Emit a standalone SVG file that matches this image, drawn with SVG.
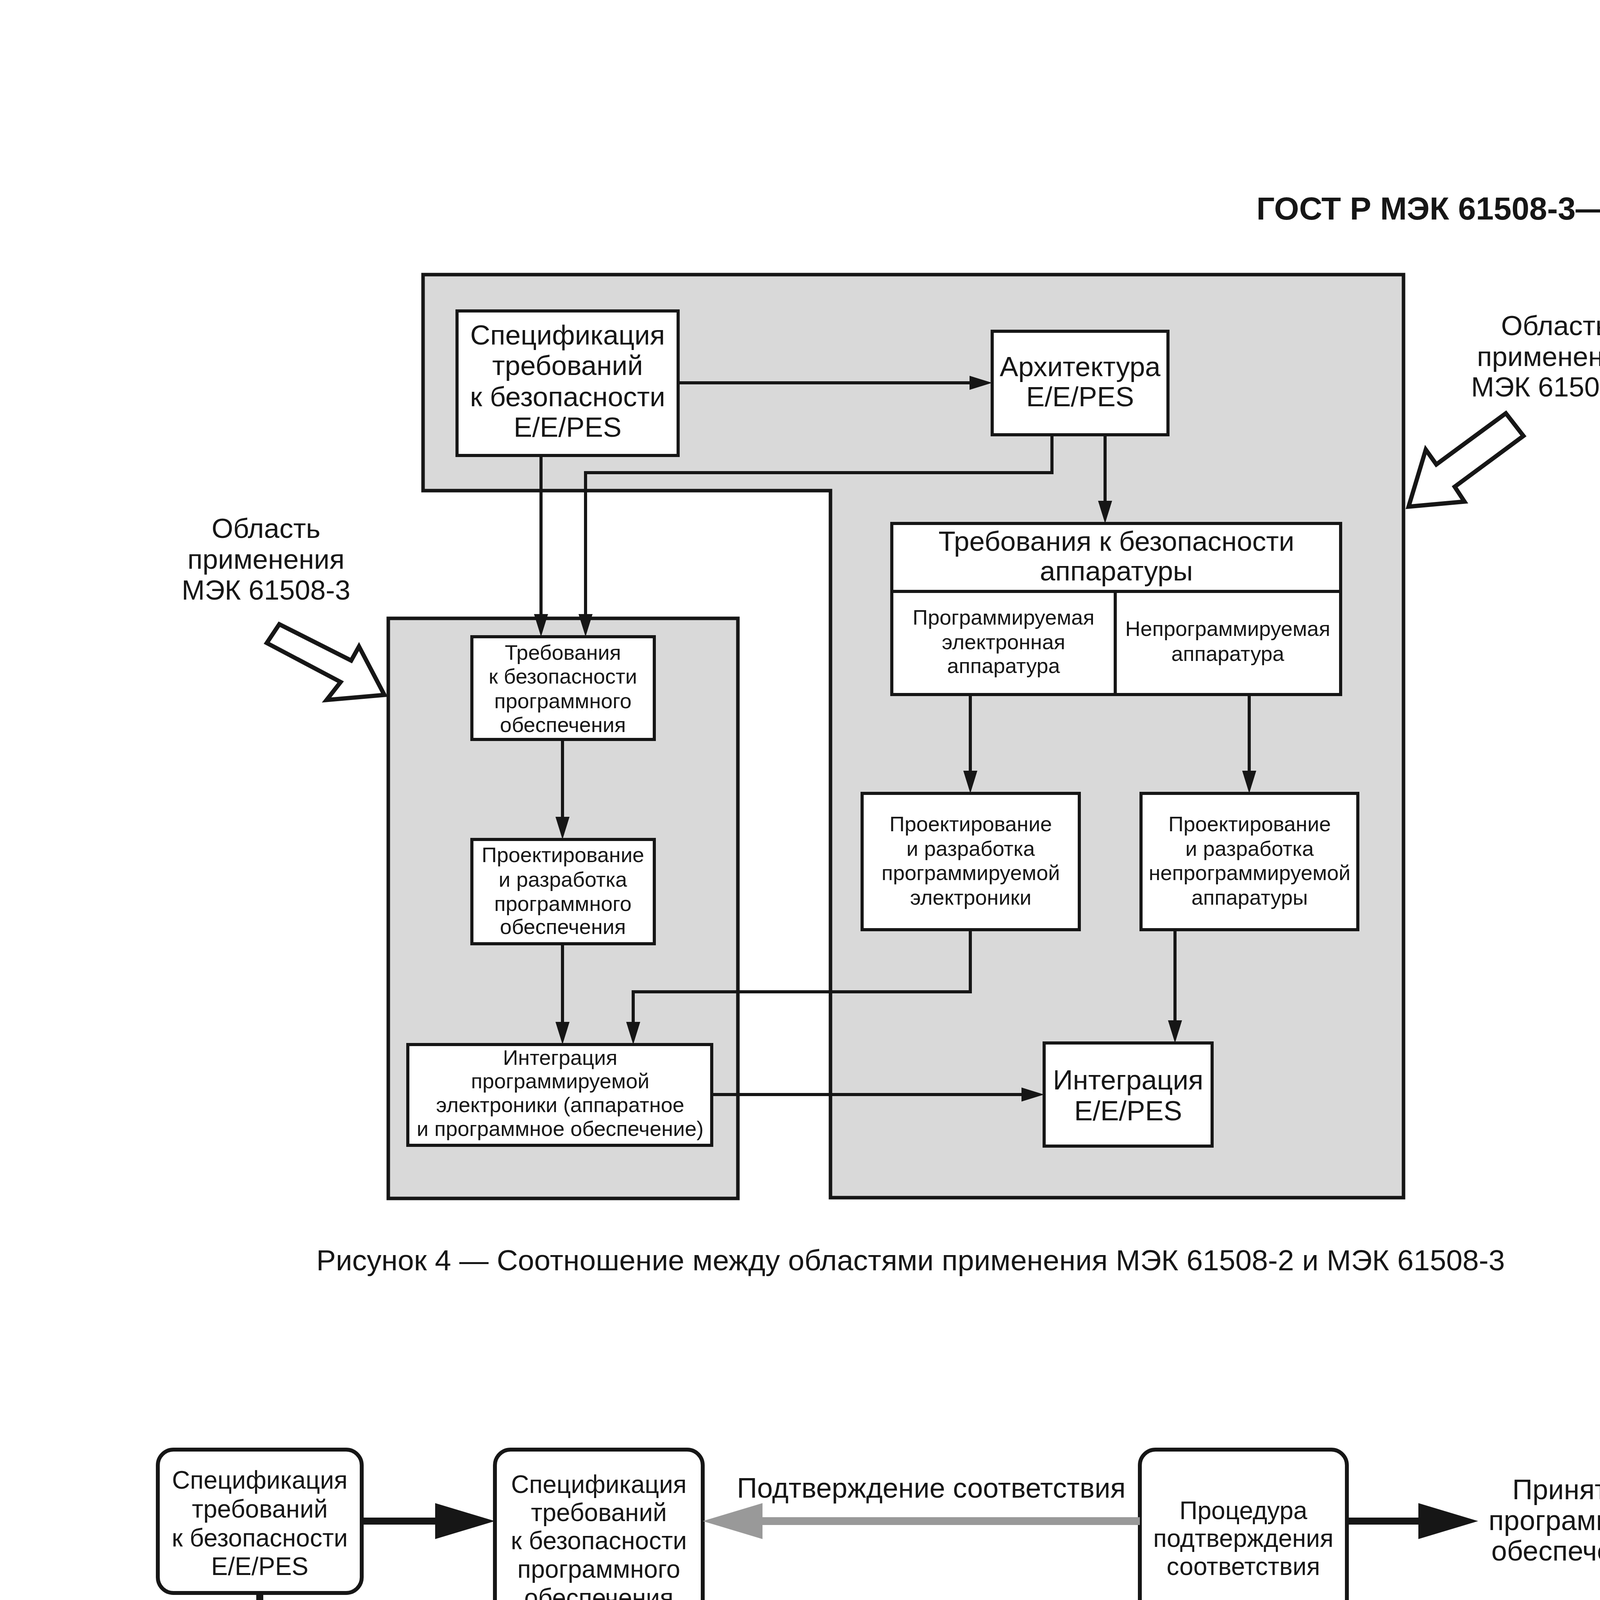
<svg xmlns="http://www.w3.org/2000/svg" width="4886" height="6911" viewBox="0 0 4886 6911">
<style>
text{font-family:"Liberation Sans",Arial,sans-serif;fill:#161616;text-anchor:middle}
.hdr{font-weight:bold;font-size:82px;text-anchor:end}
.cap{font-size:75px}
.L{font-size:71px}
.S{font-size:54px}
.M{font-size:64px}
.B{font-size:72px}
.lg{text-anchor:start;font-size:63px}
.grey{fill:#d9d9d9;stroke:#161616;stroke-width:9}
.b4{fill:#fff;stroke:#161616;stroke-width:8}
.b5{fill:#fff;stroke:#161616;stroke-width:10}
.hol{fill:#fff;stroke:#161616;stroke-width:11;stroke-linejoin:miter}
.c4{fill:none;stroke:#161616;stroke-width:8}
.c5{fill:none;stroke:#161616;stroke-width:9}
.dot{stroke-dasharray:14 8}
.thk{fill:none;stroke:#161616;stroke-width:18}
.gry{fill:none;stroke:#999;stroke-width:20}
</style>
<defs>
<marker id="a" markerUnits="userSpaceOnUse" orient="auto" refX="0" refY="0" markerWidth="1" markerHeight="1" overflow="visible"><path d="M-4,-18 L54,0 L-4,18 z" fill="#161616"/></marker>
<marker id="t" markerUnits="userSpaceOnUse" orient="auto-start-reverse" refX="0" refY="0" markerWidth="1" markerHeight="1" overflow="visible"><path d="M-6,-46 L147,0 L-6,46 z" fill="#161616"/></marker>
<marker id="g" markerUnits="userSpaceOnUse" orient="auto" refX="0" refY="0" markerWidth="1" markerHeight="1" overflow="visible"><path d="M-6,-46 L147,0 L-6,46 z" fill="#999"/></marker>
</defs>
<text class="hdr" x="4298" y="562">ГОСТ Р МЭК 61508-3—2007</text>

<!-- Figure 4 -->
<g id="fig4">
<g id="area2"><polygon class="grey" points="1083,703 3593,703 3593,3066 2126,3066 2126,1256 1083,1256"/></g>
<g id="area3"><rect class="grey" x="994" y="1583" width="895" height="1485"/></g>

<g id="label2">
<text class="L"><tspan x="3982" y="858">Область</tspan><tspan x="3982" y="937">применения</tspan><tspan x="3982" y="1015">МЭК 61508-2</tspan></text>
<polygon class="hol" points="3855,1058 3900,1116 3724,1246 3749,1284 3606,1297 3650,1151 3677,1189"/>
</g>
<g id="label3">
<text class="L"><tspan x="681" y="1377">Область</tspan><tspan x="681" y="1456">применения</tspan><tspan x="681" y="1535">МЭК 61508-3</tspan></text>
<polygon class="hol" points="683,1646 715,1598 899,1691 919,1655 984,1779 836,1792 872,1746"/>
</g>

<g id="spec4">
<rect class="b4" x="1170" y="796" width="566" height="370"/>
<text class="L"><tspan x="1453" y="882">Спецификация</tspan><tspan x="1453" y="960">требований</tspan><tspan x="1453" y="1040">к безопасности</tspan><tspan x="1453" y="1118">E/E/PES</tspan></text>
</g>
<g id="arch4">
<rect class="b4" x="2540" y="848" width="450" height="265"/>
<text class="L"><tspan x="2765" y="963">Архитектура</tspan><tspan x="2765" y="1040">E/E/PES</tspan></text>
</g>
<g id="hwreq">
<rect class="b4" x="2283" y="1340" width="1149" height="438"/>
<line class="c4" x1="2283" y1="1514" x2="3432" y2="1514"/>
<line class="c4" x1="2855" y1="1514" x2="2855" y2="1778"/>
<text class="L"><tspan x="2858" y="1410">Требования к безопасности</tspan><tspan x="2858" y="1486">аппаратуры</tspan></text>
<text class="S"><tspan x="2569" y="1599">Программируемая</tspan><tspan x="2569" y="1662">электронная</tspan><tspan x="2569" y="1723">аппаратура</tspan></text>
<text class="S"><tspan x="3143" y="1628">Непрограммируемая</tspan><tspan x="3143" y="1692">аппаратура</tspan></text>
</g>
<g id="hwdesPE">
<rect class="b4" x="2207" y="2031" width="556" height="349"/>
<text class="S"><tspan x="2485" y="2128">Проектирование</tspan><tspan x="2485" y="2191">и разработка</tspan><tspan x="2485" y="2253">программируемой</tspan><tspan x="2485" y="2316">электроники</tspan></text>
</g>
<g id="hwdesNP">
<rect class="b4" x="2921" y="2031" width="555" height="349"/>
<text class="S"><tspan x="3199" y="2128">Проектирование</tspan><tspan x="3199" y="2191">и разработка</tspan><tspan x="3199" y="2253">непрограммируемой</tspan><tspan x="3199" y="2316">аппаратуры</tspan></text>
</g>
<g id="integ4">
<rect class="b4" x="2673" y="2670" width="430" height="264"/>
<text class="L"><tspan x="2888" y="2789">Интеграция</tspan><tspan x="2888" y="2868">E/E/PES</tspan></text>
</g>
<g id="swreq4">
<rect class="b4" x="1208" y="1630" width="467" height="263"/>
<text class="S"><tspan x="1441" y="1689">Требования</tspan><tspan x="1441" y="1750">к безопасности</tspan><tspan x="1441" y="1813">программного</tspan><tspan x="1441" y="1874">обеспечения</tspan></text>
</g>
<g id="swdes4">
<rect class="b4" x="1208" y="2149" width="467" height="267"/>
<text class="S"><tspan x="1441" y="2207">Проектирование</tspan><tspan x="1441" y="2270">и разработка</tspan><tspan x="1441" y="2332">программного</tspan><tspan x="1441" y="2391">обеспечения</tspan></text>
</g>
<g id="integPE">
<rect class="b4" x="1044" y="2674" width="778" height="258"/>
<text class="S"><tspan x="1434" y="2726">Интеграция</tspan><tspan x="1434" y="2786">программируемой</tspan><tspan x="1434" y="2847">электроники (аппаратное</tspan><tspan x="1434" y="2908">и программное обеспечение)</tspan></text>
</g>

<g id="conn4">
<path class="c4" marker-end="url(#a)" d="M1736,980 H2486"/>
<path class="c4" marker-end="url(#a)" d="M1385,1166 V1576"/>
<path class="c4" marker-end="url(#a)" d="M2693,1113 V1210 H1499 V1576"/>
<path class="c4" marker-end="url(#a)" d="M2829,1113 V1286"/>
<path class="c4" marker-end="url(#a)" d="M1440,1893 V2095"/>
<path class="c4" marker-end="url(#a)" d="M1440,2416 V2620"/>
<path class="c4" marker-end="url(#a)" d="M2484,1778 V1977"/>
<path class="c4" marker-end="url(#a)" d="M3198,1778 V1977"/>
<path class="c4" marker-end="url(#a)" d="M2484,2380 V2539 H1621 V2620"/>
<path class="c4" marker-end="url(#a)" d="M3008,2380 V2616"/>
<path class="c4" marker-end="url(#a)" d="M1822,2802 H2619"/>
</g>
</g>
<text class="cap" x="2331" y="3252">Рисунок 4 — Соотношение между областями применения МЭК 61508-2 и МЭК 61508-3</text>

<!-- Figure 5 -->
<g id="fig5">
<g id="specEEPES">
<rect class="b5" x="404" y="3711" width="522" height="367" rx="40"/>
<text class="M"><tspan x="665" y="3811">Спецификация</tspan><tspan x="665" y="3885">требований</tspan><tspan x="665" y="3959">к безопасности</tspan><tspan x="665" y="4032">E/E/PES</tspan></text>
</g>
<g id="specSW">
<rect class="b5" x="1267" y="3711" width="532" height="455" rx="40"/>
<text class="M"><tspan x="1533" y="3822">Спецификация</tspan><tspan x="1533" y="3894">требований</tspan><tspan x="1533" y="3966">к безопасности</tspan><tspan x="1533" y="4039">программного</tspan><tspan x="1533" y="4112">обеспечения</tspan></text>
</g>
<text class="B" x="2384" y="3834">Подтверждение соответствия</text>
<g id="proc">
<rect class="b5" x="2918" y="3711" width="530" height="455" rx="40"/>
<text class="M"><tspan x="3183" y="3889">Процедура</tspan><tspan x="3183" y="3960">подтверждения</tspan><tspan x="3183" y="4032">соответствия</tspan></text>
</g>
<g id="accepted">
<text class="B"><tspan x="4033" y="3838">Принятое</tspan><tspan x="4033" y="3917">программное</tspan><tspan x="4033" y="3995">обеспечение</tspan></text>
</g>
<g id="archEEPES">
<rect class="b5" x="447" y="4425" width="436" height="189" rx="40"/>
<text class="M"><tspan x="666" y="4506">Архитектура</tspan><tspan x="666" y="4578">E/E/PES</tspan></text>
</g>
<g id="archSW">
<rect class="b5" x="1569" y="4425" width="528" height="270" rx="40"/>
<text class="M"><tspan x="1833" y="4512">Архитектура</tspan><tspan x="1833" y="4584">программного</tspan><tspan x="1833" y="4657">обеспечения</tspan></text>
</g>
<g id="testInteg">
<rect class="b5" x="3312" y="4355" width="931" height="358" rx="40"/>
<text class="M"><tspan x="3778" y="4440">Тестирование интеграции</tspan><tspan x="3778" y="4513">(компоненты, подсистемы</tspan><tspan x="3778" y="4586">и программируемая</tspan><tspan x="3778" y="4657">электроника)</tspan></text>
</g>
<g id="sysDes">
<rect class="b5" x="1794" y="4868" width="605" height="308" rx="40"/>
<text class="M"><tspan x="2097" y="4935">Проектирование</tspan><tspan x="2097" y="5006">системы</tspan><tspan x="2097" y="5076">программного</tspan><tspan x="2097" y="5147">обеспечения</tspan></text>
</g>
<g id="integCheck">
<rect class="b5" x="3363" y="4868" width="434" height="308" rx="40"/>
<text class="M"><tspan x="3580" y="4968">Проверка</tspan><tspan x="3580" y="5038">интеграции</tspan><tspan x="3580" y="5109">(модули)</tspan></text>
</g>
<g id="modDes">
<rect class="b5" x="2048" y="5391" width="605" height="184" rx="40"/>
<text class="M"><tspan x="2350" y="5464">Проектирование</tspan><tspan x="2350" y="5534">модулей</tspan></text>
</g>
<g id="modTest">
<rect class="b5" x="3006" y="5391" width="529" height="184" rx="40"/>
<text class="M"><tspan x="3270" y="5464">Тестирование</tspan><tspan x="3270" y="5534">модулей</tspan></text>
</g>
<g id="prog">
<rect class="b5" x="2396" y="5779" width="693" height="181" rx="40"/>
<text class="M" x="2742" y="5884">Программирование</text>
</g>
<g id="legend">
<rect class="b5" x="567" y="5555" width="781" height="307" rx="40"/>
<path class="c5" marker-end="url(#a)" d="M625,5659 H802"/>
<path class="c5 dot" marker-end="url(#a)" d="M625,5746 H802"/>
<text class="lg" x="886" y="5684">Выход</text>
<text class="lg" x="886" y="5768">Верификация</text>
</g>

<g id="conn5">
<path class="thk" marker-end="url(#t)" d="M926,3894 H1120"/>
<path class="thk" marker-end="url(#t)" d="M665,4078 V4278"/>
<path class="thk" marker-start="url(#t)" marker-end="url(#t)" d="M1030,4555 H1422"/>
<path class="gry" marker-end="url(#g)" d="M2918,3894 H1946"/>
<path class="thk" marker-end="url(#t)" d="M3448,3894 H3637"/>
<path class="c5" marker-end="url(#a)" d="M1361,4166 V4478 H1515"/>
<path class="c5 dot" marker-end="url(#a)" d="M1709,4425 V4220"/>
<path class="c5 dot" marker-end="url(#a)" d="M3312,4557 H2151"/>
<path class="c5" marker-end="url(#a)" d="M3312,4462 H3181 V4220"/>
<path class="c5" marker-end="url(#a)" d="M1629,4695 V5020 H1740"/>
<path class="c5 dot" marker-end="url(#a)" d="M1971,4868 V4749"/>
<path class="c5 dot" marker-end="url(#a)" d="M3363,5020 H2453"/>
<path class="c5" marker-end="url(#a)" d="M3797,5020 H3966 V4767"/>
<path class="c5" marker-end="url(#a)" d="M1879,5176 V5485 H1994"/>
<path class="c5 dot" marker-end="url(#a)" d="M2232,5391 V5230"/>
<path class="c5 dot" marker-end="url(#a)" d="M3006,5485 H2707"/>
<path class="c5" marker-end="url(#a)" d="M3535,5485 H3704 V5230"/>
<path class="c5" marker-end="url(#a)" d="M2232,5575 V5868 H2342"/>
<path class="c5 dot" marker-end="url(#a)" d="M2483,5779 V5629"/>
<path class="c5" marker-end="url(#a)" d="M3089,5868 H3270 V5629"/>
</g>
</g>
<text class="cap" x="2325" y="6145">Рисунок 5 — Полнота безопасности программного обеспечения и жизненный цикл разработки (V-модель)</text>
<text class="L" x="4300" y="6345" style="text-anchor:end">7</text>
</svg>
